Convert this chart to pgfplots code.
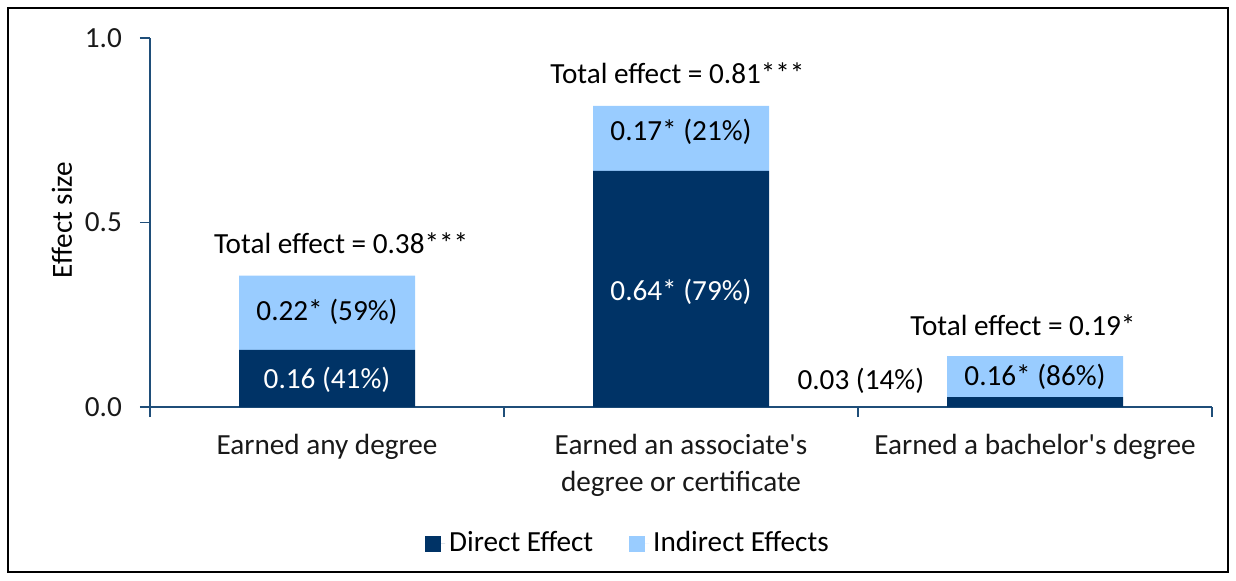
\documentclass[border=0pt]{standalone}
\usepackage{pgfplots}
\pgfplotsset{compat=1.18}
\usepackage{fontspec}
\setmainfont{Carlito}
\definecolor{dirc}{HTML}{003366}
\definecolor{indc}{HTML}{99CCFF}
\definecolor{axc}{HTML}{1F4E79}
\begin{document}
\begin{tikzpicture}
\fontsize{14.6}{18.5}\selectfont
\path[use as bounding box] (0,0) rectangle (618pt,290pt);
\draw[line width=1pt] (4pt,4pt) rectangle (614pt,286pt);
\begin{axis}[
  at={(75pt,86.5pt)}, anchor=south west,
  scale only axis, width=531pt, height=184.5pt,
  xmin=-0.5, xmax=2.5, ymin=0, ymax=1,
  clip=false,
  axis x line*=bottom, axis y line*=left,
  axis line style={axc, line width=0.9pt, -},
  every outer x axis line/.append style={-},
  every outer y axis line/.append style={-},
  ybar stacked, bar width=88pt,
  ytick={0,0.5,1}, yticklabels={0.0,0.5,1.0},
  xtick={0,1,2},
  xticklabels={Earned any degree, {Earned an associate\textquotesingle s\\degree or certificate}, Earned a bachelor\textquotesingle s degree},
  major x tick style={draw=none},
  minor xtick={-0.5,0.5,1.5,2.5},
  tick align=outside,
  major tick length=5pt, minor tick length=5pt,
  tick style={axc, line width=0.9pt},
  ticklabel style={font=\fontsize{14.6}{18.5}\selectfont, text=black!90},
  x tick label style={align=center, yshift=-3.5pt},
  y tick label style={xshift=-4pt},
  ylabel={Effect size},
  ylabel style={at={(axis description cs:-0.083,0.507)}, anchor=center, font=\fontsize{14.6}{18.5}\selectfont},
  legend style={at={(axis description cs:0.451,-0.37)}, anchor=center, draw=none,
     legend columns=2, font=\fontsize{14.6}{18.5}\selectfont,
     /tikz/every even column/.append style={column sep=16pt}},
  legend image code/.code={\fill[#1] (0pt,-4pt) rectangle (8pt,4pt); \path (0pt,0pt) -- (10pt,0pt);},
]
\addplot[fill=dirc, draw=none] coordinates {(0,0.155) (1,0.640) (2,0.027)};
\addlegendentry{Direct Effect}
\addplot[fill=indc, draw=none] coordinates {(0,0.201) (1,0.176) (2,0.111)};
\addlegendentry{Indirect Effects}
\coordinate (t1) at (axis cs:0.04,0.444);
\coordinate (t2) at (axis cs:0.99,0.905);
\coordinate (t3) at (axis cs:1.966,0.222);
\coordinate (a1) at (axis cs:0,0.257);
\coordinate (a2) at (axis cs:0,0.073);
\coordinate (b1) at (axis cs:1,0.745);
\coordinate (b2) at (axis cs:1,0.312);
\coordinate (c1) at (axis cs:1.508,0.070);
\coordinate (c2) at (axis cs:2,0.081);
\end{axis}
\node at (t1) {Total effect = 0.38***};
\node at (t2) {Total effect = 0.81***};
\node at (t3) {Total effect = 0.19*};
\node at (a1) {0.22* (59\%)};
\node[text=white] at (a2) {0.16 (41\%)};
\node at (b1) {0.17* (21\%)};
\node[text=white] at (b2) {0.64* (79\%)};
\node at (c1) {0.03 (14\%)};
\node at (c2) {0.16* (86\%)};
\end{tikzpicture}
\end{document}
